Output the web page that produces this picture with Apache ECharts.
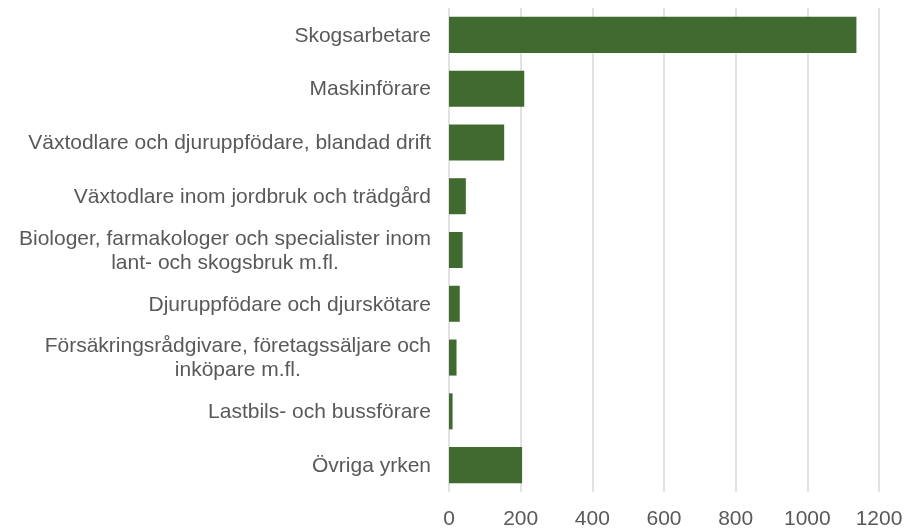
<!DOCTYPE html>
<html>
<head>
<meta charset="utf-8">
<script src="https://cdn.jsdelivr.net/npm/echarts@6/dist/echarts.min.js"></script>
<style>
html, body { margin: 0; padding: 0; background: #fff; }
#chartBar { width: 905px; height: 529px; }
</style>
</head>
<body>
<div id="chartBar"></div>
<script>
var categories = [
	'Skogsarbetare',
	'Maskinförare',
	'Växtodlare och djuruppfödare, blandad drift',
	'Växtodlare inom jordbruk och trädgård',
	'Biologer, farmakologer och specialister inom\nlant- och skogsbruk m.fl.',
	'Djuruppfödare och djurskötare',
	'Försäkringsrådgivare, företagssäljare och\ninköpare m.fl.',
	'Lastbils- och bussförare',
	'Övriga yrken'
];
var values = [1137, 210, 154, 47, 38, 30, 21, 10, 204];
var xTicks = [0, 200, 400, 600, 800, 1000, 1200];

drawBar();
function drawBar(){
	var myChart = echarts.init(document.getElementById('chartBar'));
	var option = {
		animation: false,
		grid: {
			top: 8,
			left: 449,
			right: 26,
			bottom: 37,
			containLabel: false,
			outerBoundsMode: 'none'
		},
		xAxis: {
			type: 'value',
			min: xTicks[0],
			max: xTicks[xTicks.length - 1],
			interval: xTicks[1] - xTicks[0],
			axisLine: { show: false },
			axisTick: { show: false },
			axisLabel: {
				color: '#595959',
				fontSize: 21,
				fontFamily: 'Liberation Sans, Arial, sans-serif',
				margin: 17,
				formatter: function (v) { return String(v); }
			},
			splitLine: {
				show: true,
				lineStyle: { color: '#d9d9d9', width: 1.5 }
			}
		},
		yAxis: {
			type: 'category',
			inverse: true,
			data: categories,
			axisLine: { show: false },
			axisTick: { show: false },
			axisLabel: {
				color: '#595959',
				fontSize: 21,
				fontFamily: 'Liberation Sans, Arial, sans-serif',
				margin: 18,
				formatter: function (v) {
					return v.split('\n').map(function (s) { return '{c|' + s + '}'; }).join('\n');
				},
				rich: {
					c: {
						align: 'center',
						color: '#595959',
						fontSize: 21,
						lineHeight: 24,
						padding: [2, 0, 0, 0],
						fontFamily: 'Liberation Sans, Arial, sans-serif'
					}
				}
			}
		},
		series: [
			{
				type: 'bar',
				barCategoryGap: '33%',
				itemStyle: {
					color: '#416a31'
				},
				data: values
			}
		]
	};
	myChart.setOption(option);
}
</script>
</body>
</html>
